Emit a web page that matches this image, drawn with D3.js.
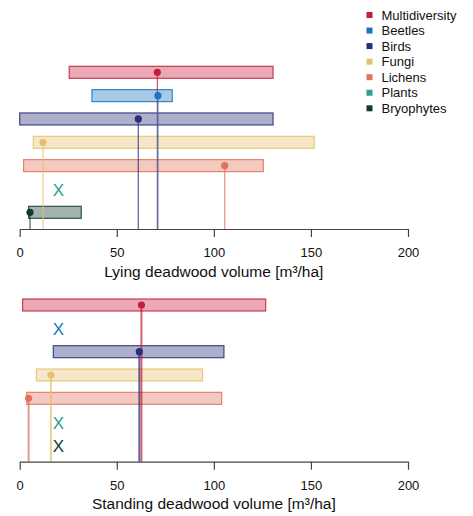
<!DOCTYPE html>
<html>
<head>
<meta charset="utf-8">
<script src="https://cdn.jsdelivr.net/npm/d3@7"></script>
<style>
  html, body { margin: 0; padding: 0; background: #fff; }
  svg { display: block; font-family: "Liberation Sans", Arial, sans-serif; }
</style>
</head>
<body>
<svg id="chart" width="473" height="516"></svg>
<script>
// Taxonomic groups, in plotting order (top to bottom)
const groups = ["Multidiversity", "Beetles", "Birds", "Fungi", "Lichens", "Plants", "Bryophytes"];
const groupColors = ["#C4203D", "#1876C0", "#282E78", "#E5C06F", "#E2725A", "#2BA08F", "#0E3B2D"];

// Lying deadwood: threshold range (low/high) and point estimate; null = no effect
const lyingLow   = [25.5, 37.2, 0,     7.0,  2.0,   null, 4.6];
const lyingHigh  = [130.5, 78.6, 130.5, 151.7, 125.5, null, 31.7];
const lyingPoint = [70.9, 71.2, 61.1,  12.0, 105.6, null, 5.3];

// Standing deadwood
const standingLow   = [1.5,   null, 17.3,  8.6,  3.6,   null, null];
const standingHigh  = [126.7, null, 105.2, 94.2, 104.0, null, null];
const standingPoint = [62.7,  null, 61.6,  16.1, 4.6,   null, null];

const xTicks = [0, 50, 100, 150, 200];
const noEffectAt = 20; // x position (in m³/ha) of the "X" marker for groups without an effect

const svg = d3.select("#chart");

const x = d3.scaleLinear().domain([0, 200]).range([19.7, 408]);

function panel(cfg) {
  const y = d3.scalePoint().domain(groups).range([cfg.yTop, cfg.yBottom]);
  const g = svg.append("g");
  const rows = groups.map((name, i) => ({
    name, color: groupColors[i],
    low: cfg.low[i], high: cfg.high[i], point: cfg.point[i]
  }));
  const withData = rows.filter(d => d.point !== null);
  const noData = rows.filter(d => d.point === null);
  const barH = 12;

  // threshold ranges
  g.selectAll("rect.range").data(withData).join("rect")
    .attr("class", "range")
    .attr("x", d => x(d.low))
    .attr("y", d => y(d.name) - barH / 2)
    .attr("width", d => x(d.high) - x(d.low))
    .attr("height", barH)
    .attr("fill", d => d.color)
    .attr("fill-opacity", 0.38)
    .attr("stroke", d => d.color)
    .attr("stroke-opacity", 0.85)
    .attr("stroke-width", 1.2);

  // drop lines from estimate to the axis
  g.selectAll("line.drop").data(withData).join("line")
    .attr("class", "drop")
    .attr("x1", d => x(d.point)).attr("x2", d => x(d.point))
    .attr("y1", d => y(d.name)).attr("y2", cfg.axisY)
    .attr("stroke", d => d.color)
    .attr("stroke-opacity", 0.72)
    .attr("stroke-width", cfg.dropWidth);

  // point estimates
  g.selectAll("circle.est").data(withData).join("circle")
    .attr("class", "est")
    .attr("cx", d => x(d.point))
    .attr("cy", d => y(d.name))
    .attr("r", 3.6)
    .attr("fill", d => d.color);

  // groups without a threshold
  g.selectAll("text.none").data(noData).join("text")
    .attr("class", "none")
    .attr("x", x(noEffectAt))
    .attr("y", d => y(d.name) + 1.5)
    .attr("text-anchor", "middle")
    .attr("dominant-baseline", "central")
    .attr("font-size", 17)
    .attr("fill", d => d.color)
    .text("X");

  // x axis
  const axis = d3.axisBottom(x).tickValues(xTicks).tickSize(8).tickPadding(11).tickSizeOuter(0);
  const ax = g.append("g").attr("transform", `translate(0,${cfg.axisY})`).call(axis);
  ax.select(".domain").attr("stroke", "#444").attr("stroke-width", 1.2);
  ax.selectAll(".tick line").attr("stroke", "#444").attr("stroke-width", 1.2);
  ax.selectAll(".tick text").attr("font-size", 13).attr("fill", "#111")
    .attr("font-family", "'Liberation Sans', Arial, sans-serif");

  g.append("text")
    .attr("x", x(100))
    .attr("y", cfg.axisY + 42)
    .attr("text-anchor", "middle")
    .attr("dominant-baseline", "central")
    .attr("font-size", 15.5)
    .attr("fill", "#111")
    .text(cfg.title);
}

panel({
  low: lyingLow, high: lyingHigh, point: lyingPoint,
  yTop: 72.3, yBottom: 212.3, axisY: 229,
  dropWidth: 1.3,
  title: "Lying deadwood volume [m³/ha]"
});

panel({
  low: standingLow, high: standingHigh, point: standingPoint,
  yTop: 305, yBottom: 445, axisY: 461.7,
  dropWidth: 2,
  title: "Standing deadwood volume [m³/ha]"
});

// legend
const legend = svg.append("g");
const ly = d3.scalePoint().domain(groups).range([15, 108.3]);
legend.selectAll("rect").data(groups).join("rect")
  .attr("x", 366.5)
  .attr("y", d => ly(d) - 3)
  .attr("width", 6).attr("height", 6)
  .attr("fill", (d, i) => groupColors[i]);
legend.selectAll("text").data(groups).join("text")
  .attr("x", 381.5)
  .attr("y", d => ly(d))
  .attr("dominant-baseline", "central")
  .attr("font-size", 13)
  .attr("fill", "#111")
  .text(d => d);
</script>
</body>
</html>
